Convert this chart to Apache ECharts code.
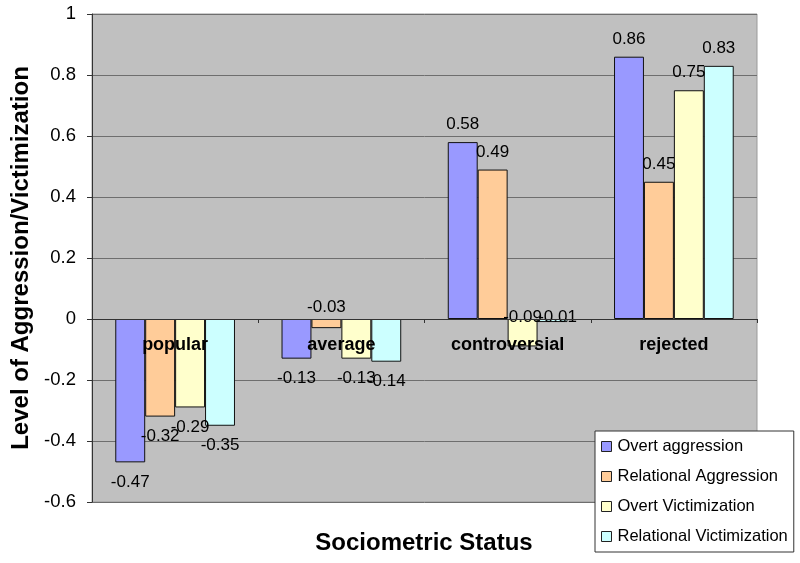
<!DOCTYPE html>
<html>
<head>
<meta charset="utf-8">
<script src="https://cdn.jsdelivr.net/npm/echarts@6/dist/echarts.min.js"></script>
<style>html,body{margin:0;padding:0;background:#fff;}#c{width:800px;height:563px;}</style>
</head>
<body>
<div id="c"></div>
<script>
const categories = ['popular', 'average', 'controversial', 'rejected'];
const seriesNames = ['Overt aggression', 'Relational Aggression', 'Overt Victimization', 'Relational Victimization'];
const overtAggression = [-0.47, -0.13, 0.58, 0.86];
const relationalAggression = [-0.32, -0.03, 0.49, 0.45];
const overtVictimization = [-0.29, -0.13, -0.09, 0.75];
const relationalVictimization = [-0.35, -0.14, -0.01, 0.83];
const yTicks = [-0.6, -0.4, -0.2, 0, 0.2, 0.4, 0.6, 0.8, 1];

const colors = ['#9999FF', '#FFCC99', '#FFFFCC', '#CCFFFF'];
const allValues = [overtAggression, relationalAggression, overtVictimization, relationalVictimization];
// label placement overrides (series index, category index) -> label style
const labelOverrides = {
  '1-1': { position: 'top', distance: 3 },
  '2-2': { position: 'top', distance: -7 },
  '3-2': { position: 'top', distance: -7, offset: [5, 0] }
};
const FONT = '"Liberation Sans", Arial, sans-serif';

const series = allValues.map((vals, si) => ({
  name: seriesNames[si],
  type: 'bar',
  barGap: '0%',
  barCategoryGap: '28%',
  itemStyle: { color: colors[si], borderColor: '#111', borderWidth: 1 },
  label: {
    show: true,
    fontSize: 17,
    fontFamily: FONT,
    color: '#000',
    formatter: p => p.value.toFixed(2)
  },
  data: vals.map((v, ci) => {
    const ov = labelOverrides[si + '-' + ci];
    const base = { position: v >= 0 ? 'top' : 'bottom', distance: v >= 0 ? 9 : 11 };
    return { value: v, label: Object.assign(base, ov || {}) };
  })
}));

const chart = echarts.init(document.getElementById('c'));
chart.setOption({
  animation: false,
  textStyle: { fontFamily: FONT },
  grid: {
    left: 92, right: 43, top: 14, bottom: 61,
    show: true, backgroundColor: '#C0C0C0', borderColor: '#9a9a9a', borderWidth: 1
  },
  title: {
    text: 'Sociometric Status',
    left: 424, top: 531, textAlign: 'center', padding: 0,
    textStyle: { fontSize: 24, fontWeight: 'bold', color: '#000', fontFamily: FONT }
  },
  legend: {
    orient: 'vertical',
    left: 595, top: 431,
    padding: [7, 6, 7, 6],
    itemGap: 13,
    itemWidth: 10, itemHeight: 10,
    icon: 'rect',
    backgroundColor: '#fff',
    borderColor: '#333', borderWidth: 1,
    itemStyle: { borderColor: '#222', borderWidth: 1 },
    textStyle: { fontSize: 16.5, color: '#000', fontFamily: FONT, padding: [0, 0, 0, 1] },
    data: seriesNames
  },
  xAxis: {
    type: 'category',
    data: categories,
    z: 5,
    axisLine: { onZero: true, lineStyle: { color: '#333', width: 1 } },
    axisTick: { show: true, length: 4, lineStyle: { color: '#333' } },
    axisLabel: { fontSize: 18, fontWeight: 'bold', color: '#000', margin: -166, fontFamily: FONT },
    splitLine: { show: false }
  },
  yAxis: {
    type: 'value',
    min: yTicks[0], max: yTicks[yTicks.length - 1], interval: 0.2,
    name: 'Level of Aggression/Victimization',
    nameLocation: 'middle',
    nameGap: 57,
    nameTextStyle: { fontSize: 24, fontWeight: 'bold', color: '#000', fontFamily: FONT },
    axisLine: { show: true, lineStyle: { color: '#333', width: 1 } },
    axisTick: { show: true, length: 5, lineStyle: { color: '#333' } },
    axisLabel: {
      fontSize: 18.5, color: '#000', margin: 16, fontFamily: FONT,
      formatter: v => String(Math.round(v * 10) / 10)
    },
    splitLine: { show: true, lineStyle: { color: '#6e6e6e', width: 1 } }
  },
  series: series
});
</script>
</body>
</html>
